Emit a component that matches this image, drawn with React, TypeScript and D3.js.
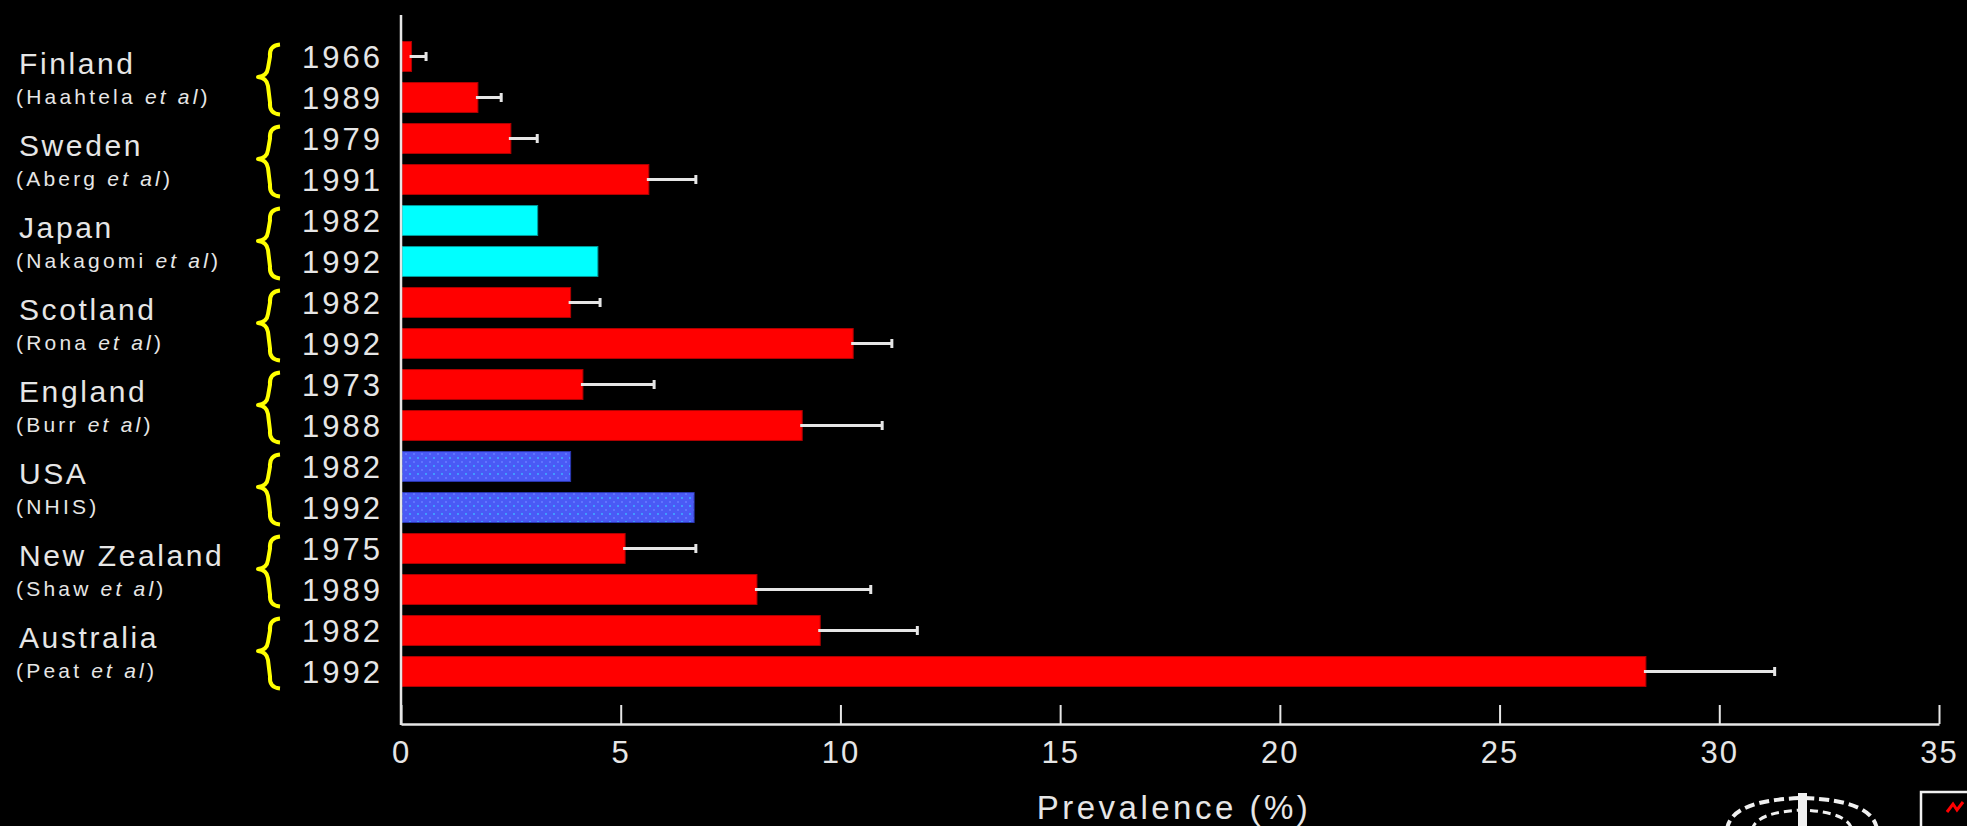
import { useEffect, useRef } from "react";
import * as d3 from "d3";

const countries = ["Finland", "Sweden", "Japan", "Scotland", "England", "USA", "New Zealand", "Australia"];
const studies = ["Haahtela", "Aberg", "Nakagomi", "Rona", "Burr", "NHIS", "Shaw", "Peat"];
const hasEtAl = [true, true, true, true, true, false, true, true];

const years = ["1966", "1989", "1979", "1991", "1982", "1992", "1982", "1992", "1973", "1988", "1982", "1992", "1975", "1989", "1982", "1992"];
const prevalence = [0.24, 1.75, 2.5, 5.64, 3.11, 4.48, 3.86, 10.29, 4.14, 9.13, 3.86, 6.67, 5.1, 8.1, 9.54, 28.33];
const upperError: (number | null)[] = [0.57, 2.28, 3.1, 6.71, null, null, 4.53, 11.17, 5.76, 10.95, null, null, 6.71, 10.69, 11.75, 31.26];

const xTicks = [0, 5, 10, 15, 20, 25, 30, 35];

const W = 1967;
const H = 826;
const FONT = "'Liberation Sans', Arial, sans-serif";
const AXIS = "#e6e6e6";

export default function App() {
  const svgRef = useRef<SVGSVGElement>(null);

  useEffect(() => {
    if (!svgRef.current) return;
    const svg = d3.select(svgRef.current);
    svg.selectAll("*").remove();

    const rows = years.map((_, i) => String(i));
    const x = d3.scaleLinear().domain([0, 35]).range([401, 1939]);
    const y = d3.scaleBand<string>().domain(rows).range([36, 692]).paddingInner(0.27).paddingOuter(0.135);
    const bw = y.bandwidth();

    // stipple pattern for the NHIS bars
    const defs = svg.append("defs");
    const pat = defs.append("pattern")
      .attr("id", "stipple")
      .attr("width", 8)
      .attr("height", 8)
      .attr("patternUnits", "userSpaceOnUse");
    pat.append("rect").attr("width", 8).attr("height", 8).attr("fill", "#4a5af5");
    pat.append("rect").attr("x", 1).attr("y", 1).attr("width", 2).attr("height", 2).attr("fill", "#3f9bff");
    pat.append("rect").attr("x", 5).attr("y", 5).attr("width", 2).attr("height", 2).attr("fill", "#5f74ff");

    svg.append("rect").attr("width", W).attr("height", H).attr("fill", "#000");

    const fillFor = (i: number) => {
      const c = countries[Math.floor(i / 2)];
      if (c === "Japan") return "#00ffff";
      if (c === "USA") return "url(#stipple)";
      return "#ff0000";
    };
    const strokeFor = (i: number) => {
      const c = countries[Math.floor(i / 2)];
      if (c === "Japan") return "#009a9a";
      if (c === "USA") return "#2a36b0";
      return "#b00000";
    };

    // bars
    svg.append("g")
      .selectAll("rect")
      .data(prevalence)
      .join("rect")
      .attr("x", x(0) + 1)
      .attr("y", (_, i) => y(rows[i])!)
      .attr("width", (d) => x(d) - x(0) - 1)
      .attr("height", bw)
      .attr("fill", (_, i) => fillFor(i))
      .attr("stroke", (_, i) => strokeFor(i))
      .attr("stroke-width", 1);

    // error bars (upper only)
    const err = svg.append("g").attr("stroke", AXIS).attr("stroke-width", 3);
    upperError.forEach((e, i) => {
      if (e == null) return;
      const cy = y(rows[i])! + bw / 2;
      err.append("line")
        .attr("x1", x(prevalence[i]) - 2)
        .attr("x2", x(e))
        .attr("y1", cy)
        .attr("y2", cy);
      err.append("line")
        .attr("x1", x(e))
        .attr("x2", x(e))
        .attr("y1", cy - 4.5)
        .attr("y2", cy + 4.5);
    });

    // x axis
    const axis = svg.append("g")
      .attr("transform", `translate(0,724)`)
      .call(d3.axisBottom(x).tickValues(xTicks).tickSize(-19).tickSizeOuter(0));
    axis.select(".domain").attr("stroke", AXIS).attr("stroke-width", 2.5);
    axis.selectAll(".tick line").attr("stroke", AXIS).attr("stroke-width", 2);
    axis.selectAll(".tick text")
      .attr("y", 39)
      .attr("dy", "0")
      .attr("fill", AXIS)
      .style("font-family", FONT)
      .style("font-size", "31px")
      .style("letter-spacing", "2px");

    // y axis line
    svg.append("line")
      .attr("x1", x(0))
      .attr("x2", x(0))
      .attr("y1", 15)
      .attr("y2", 725)
      .attr("stroke", AXIS)
      .attr("stroke-width", 2.5);

    // year labels
    svg.append("g")
      .selectAll("text")
      .data(years)
      .join("text")
      .attr("x", 383)
      .attr("y", (_, i) => y(rows[i])! + bw / 2 + 11.5)
      .attr("text-anchor", "end")
      .attr("fill", AXIS)
      .style("font-family", FONT)
      .style("font-size", "31px")
      .style("letter-spacing", "3px")
      .text((d) => d);

    // country labels, study labels and braces
    const lab = svg.append("g").attr("fill", AXIS).style("font-family", FONT);
    countries.forEach((c, k) => {
      const top = y(rows[2 * k])!;
      const bot = y(rows[2 * k + 1])! + bw;
      const mid = (top + bot) / 2;

      lab.append("text")
        .attr("x", 19)
        .attr("y", mid - 3)
        .style("font-size", "30px")
        .style("letter-spacing", "2.6px")
        .text(c);

      const st = lab.append("text")
        .attr("x", 16)
        .attr("y", mid + 27)
        .style("font-size", "21px")
        .style("letter-spacing", "3.2px");
      if (hasEtAl[k]) {
        st.append("tspan").text(`(${studies[k]} `);
        st.append("tspan").style("font-style", "italic").text("et al");
        st.append("tspan").text(")");
      } else {
        st.text(`(${studies[k]})`);
      }

      const t = top + 3;
      const b = bot + 2;
      const xr = 280;
      const xm = 269;
      const xt = 258;
      const path = `M${xr},${t} Q${xm},${t + 1} ${xm + 1},${t + 12} L${xm - 1},${mid - 9} Q${xm - 2},${mid - 1} ${xt},${mid}` +
        ` Q${xm - 2},${mid + 1} ${xm - 1},${mid + 9} L${xm + 1},${b - 12} Q${xm},${b - 1} ${xr},${b}`;
      svg.append("path")
        .attr("d", path)
        .attr("fill", "none")
        .attr("stroke", "#ffff00")
        .attr("stroke-width", 4)
        .attr("stroke-linejoin", "round");
    });

    // axis title
    svg.append("text")
      .attr("x", (x(0) + x(35)) / 2 + 4)
      .attr("y", 819)
      .attr("text-anchor", "middle")
      .attr("fill", AXIS)
      .style("font-family", FONT)
      .style("font-size", "33px")
      .style("letter-spacing", "3.5px")
      .text("Prevalence (%)");

    // logos, bottom right (mostly cut off)
    const logo = svg.append("g").attr("stroke", "#f0f0f0").attr("fill", "none");
    logo.append("path")
      .attr("d", "M1727,830 Q1730,800 1802,798 Q1874,800 1877,830")
      .attr("stroke-width", 4)
      .attr("stroke-dasharray", "10 5");
    logo.append("path")
      .attr("d", "M1752,830 Q1756,812 1802,810 Q1848,812 1852,830")
      .attr("stroke-width", 3)
      .attr("stroke-dasharray", "8 5");
    svg.append("rect").attr("x", 1798).attr("y", 793).attr("width", 9).attr("height", 40).attr("fill", "#f0f0f0");
    logo.append("rect").attr("x", 1921).attr("y", 792).attr("width", 60).attr("height", 50).attr("stroke-width", 2.5);
    svg.append("path")
      .attr("d", "M1947,812 L1953,804 L1957,810 L1963,802")
      .attr("stroke", "#ff0000")
      .attr("stroke-width", 3)
      .attr("fill", "none");
  }, []);

  return (
    <div style={{ position: "fixed", left: 0, top: 0, width: W, height: H, background: "#000" }}>
      <svg ref={svgRef} width={W} height={H} style={{ display: "block" }} />
    </div>
  );
}
